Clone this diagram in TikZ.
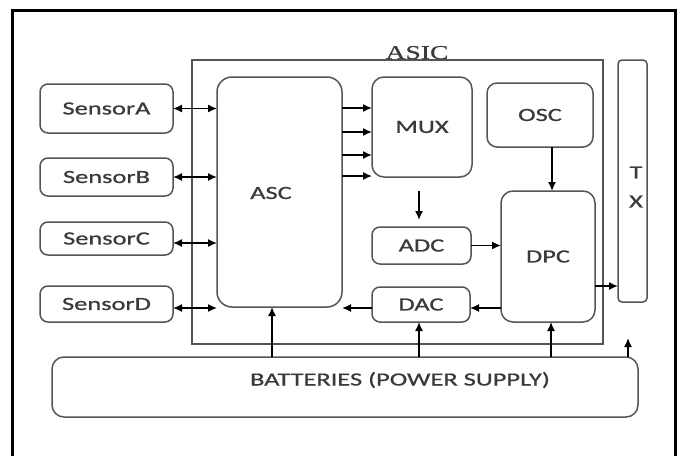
\documentclass[tikz,border=0pt]{standalone}
\usepackage{fontspec}
\setmainfont[FakeStretch=1.42,FakeBold=0.8]{Carlito}
\newfontfamily\asicfont[FakeStretch=1.41,FakeBold=0.6]{Liberation Serif}
\usetikzlibrary{arrows.meta}
\definecolor{boxgray}{HTML}{555555}
\definecolor{txtgray}{HTML}{3A3A3A}
\begin{document}
\begin{tikzpicture}[x=1pt,y=-1pt,
  every node/.style={inner sep=0pt, outer sep=0pt, text=txtgray, font=\fontsize{18.6}{22}\selectfont},
  blk/.style={draw=boxgray, line width=1.5pt, rounded corners=#1},
  blk/.default=8pt,
  arr/.style={-{Latex[length=9pt,width=8pt]}, line width=1.5pt, draw=black},
  darr/.style={{Latex[length=9pt,width=8pt]}-{Latex[length=9pt,width=8pt]}, line width=1.5pt, draw=black}
]
\useasboundingbox (0,0) rectangle (679,455);
\fill[white] (0,0) rectangle (679,455);
\draw[line width=3pt] (12,456) -- (12,10) -- (675,10) -- (675,456);

% ASIC frame
\node[draw=boxgray, line width=1.5pt, minimum width=411pt, minimum height=284pt] (ASIC) at (397.5,202) {};
\node[font=\asicfont\fontsize{19.6}{22}\selectfont, anchor=base] (asiclbl) at (417,59) {ASIC};

% sensors
\node[blk, minimum width=133pt, minimum height=49pt] (SA) at (106.5,108.5) {SensorA};
\node[blk, minimum width=133pt, minimum height=38pt] (SB) at (106.5,177) {SensorB};
\node[blk, minimum width=133pt, minimum height=33pt] (SC) at (106.5,238.5) {SensorC};
\node[blk, minimum width=133pt, minimum height=36pt] (SD) at (106.5,304) {SensorD};

% inner blocks
\node[blk=15pt, minimum width=125pt, minimum height=230pt] (ASC) at (279.5,192) {};
\node (asclbl) at (271,193) {ASC};
\node[blk=12pt, minimum width=100pt, minimum height=100pt] (MUX) at (422,127) {MUX};
\node[blk=10pt, minimum width=106pt, minimum height=64pt] (OSC) at (540,115) {OSC};
\node[blk=12pt, minimum width=94pt, minimum height=131pt] (DPC) at (548,256.5) {DPC};
\node[blk, minimum width=99pt, minimum height=37pt] (ADC) at (421.5,245.5) {ADC};
\node[blk, minimum width=98pt, minimum height=35pt] (DAC) at (421,304.5) {DAC};
\node[blk=4pt, minimum width=29pt, minimum height=242pt] (TX) at (632.5,181) {};
\node[align=center] (txlbl) at (636,187) {T\\[7pt]X};

% battery
\node[blk=12pt, minimum width=586pt, minimum height=60pt] (BAT) at (345,387) {};
\node (batlbl) at (400,380) {BATTERIES (POWER SUPPLY)};

% sensor links
\draw[darr] (SA.east) -- (SA.east -| ASC.west);
\draw[darr] (SB.east) -- (SB.east -| ASC.west);
\draw[darr] ([yshift=-4.5pt]SC.east) -- ([yshift=-4.5pt]SC.east -| ASC.west);
\draw[darr] ([yshift=-4pt]SD.east) -- ([yshift=-4pt]SD.east -| ASC.west);

% ASC to MUX
\draw[arr] ([yshift=19pt]MUX.west -| ASC.east) -- ([yshift=19pt]MUX.west);
\draw[arr] ([yshift=-5pt]MUX.west -| ASC.east) -- ([yshift=-5pt]MUX.west);
\draw[arr] ([yshift=-28pt]MUX.west -| ASC.east) -- ([yshift=-28pt]MUX.west);
\draw[arr] ([yshift=-49pt]MUX.west -| ASC.east) -- ([yshift=-49pt]MUX.west);

% internal flow
\draw[arr, shorten <=14pt, shorten >=7pt] ([xshift=-3pt]MUX.south) -- ([xshift=-3pt]MUX.south |- ADC.north);
\draw[arr] ([xshift=12pt]OSC.south) -- ([xshift=12pt]OSC.south |- DPC.north);
\draw[arr] (ADC.east) -- (ADC.east -| DPC.west);
\draw[arr] ([yshift=-3.5pt]DAC.east -| DPC.west) -- ([yshift=-3.5pt]DAC.east);
\draw[arr] ([yshift=-3.5pt]DAC.west) -- ([yshift=-3.5pt]DAC.west -| ASC.east);
\draw[arr] ([yshift=-29.5pt]DPC.east) -- ([yshift=-29.5pt]DPC.east -| TX.west);

% power
\draw[arr] ([xshift=-7.5pt]ASC.south |- BAT.north) -- ([xshift=-7.5pt]ASC.south);
\draw[arr] ([xshift=-2pt]DAC.south |- BAT.north) -- ([xshift=-2pt]DAC.south);
\draw[arr] ([xshift=3pt]DPC.south |- BAT.north) -- ([xshift=3pt]DPC.south);
\coordinate (txpw) at (628,338);
\draw[arr] (txpw |- BAT.north) -- (txpw);
\end{tikzpicture}
\end{document}
